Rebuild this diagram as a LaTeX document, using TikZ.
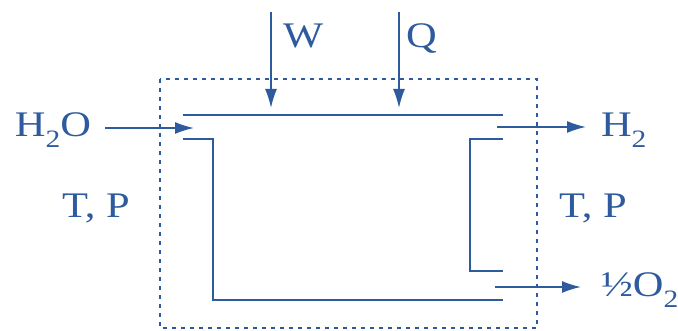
\documentclass[tikz,border=0pt]{standalone}
\usepackage{fontspec}
\setmainfont[FakeStretch=1.18]{Liberation Serif}
\usetikzlibrary{arrows.meta}
\definecolor{ink}{RGB}{46,90,158}
\newcommand\lowtwo{\raisebox{-0.3em}{\fontsize{25}{25}\selectfont 2}}
\tikzset{
  lbl/.style={inner sep=0pt, outer sep=0pt, anchor=base west, text=ink,
    font=\fontsize{36}{40}\selectfont},
  wall/.style={draw=ink, line width=1.8pt},
  flow/.style={draw=ink, line width=1.6pt, -{Latex[length=19pt,width=12pt]}},
  boundary/.style={draw=ink, line width=1.4pt, dash pattern=on 4pt off 5pt},
}
\begin{document}
\begin{tikzpicture}[x=1pt, y=-1pt]
  \useasboundingbox (0,0) rectangle (678,331);

  % control volume
  \draw[boundary] (160,79) rectangle (537,328);

  % cell walls
  \coordinate (tl) at (183,115);
  \coordinate (tr) at (503,115);
  \draw[wall] (tl) -- (tr);
  \coordinate (ina) at (183,139);
  \coordinate (inb) at (213,139);
  \coordinate (inc) at (213,300);
  \coordinate (ind) at (503,300);
  \draw[wall] (ina) -- (inb) -- (inc) -- (ind);
  \coordinate (oua) at (503,139);
  \coordinate (oub) at (470,139);
  \coordinate (ouc) at (470,271);
  \coordinate (oud) at (503,271);
  \draw[wall] (oua) -- (oub) -- (ouc) -- (oud);

  % labels
  \node[lbl] (h2o) at (15,137) {H\lowtwo O};
  \node[lbl] (w) at (283,48) {W};
  \node[lbl] (q) at (406,48) {Q};
  \node[lbl] (tpl) at (62,218) {T, P};
  \node[lbl] (tpr) at (559,218) {T, P};
  \node[lbl] (h2) at (601,137) {H\lowtwo};
  \node[lbl] (o2) at (601,297) {½O\lowtwo};

  % streams
  \coordinate (h2oa) at (105,128);
  \coordinate (h2ob) at (194,128);
  \draw[flow] (h2oa) -- (h2ob);
  \coordinate (wa) at (271,12);
  \coordinate (wb) at (271,108);
  \draw[flow] (wa) -- (wb);
  \coordinate (qa) at (399,12);
  \coordinate (qb) at (399,108);
  \draw[flow] (qa) -- (qb);
  \coordinate (h2a) at (497,127);
  \coordinate (h2b) at (586,127);
  \draw[flow] (h2a) -- (h2b);
  \coordinate (o2a) at (495,287);
  \coordinate (o2b) at (581,287);
  \draw[flow] (o2a) -- (o2b);
\end{tikzpicture}
\end{document}
